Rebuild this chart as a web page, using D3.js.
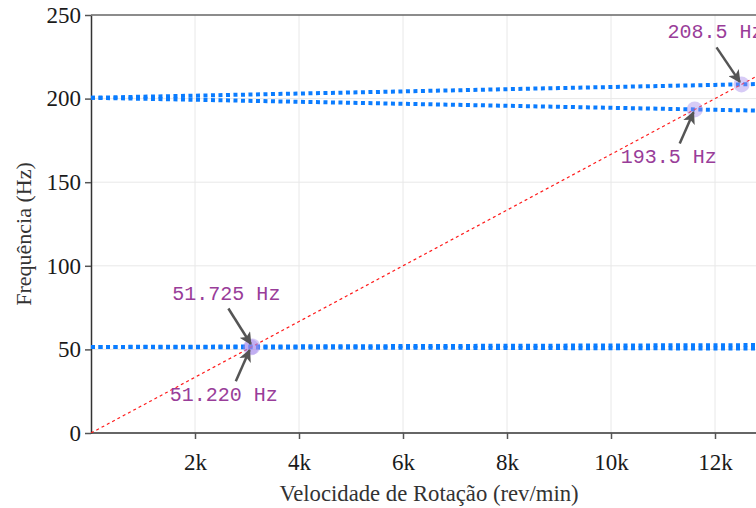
<!DOCTYPE html>
<html>
<head>
<meta charset="utf-8">
<script src="https://cdn.jsdelivr.net/npm/d3@7"></script>
<style>
html,body{margin:0;padding:0;background:#fff;overflow:hidden;}
</style>
</head>
<body>
<svg id="chart" width="756" height="508"></svg>
<script>
// ---- data ----
const rpm = [0, 3000, 6000, 9000, 12000, 15000];
const mode1Fwd = [51.45, 51.72, 51.98, 52.25, 52.51, 52.78];
const mode1Bwd = [51.45, 51.22, 51.00, 50.77, 50.55, 50.32];
const mode2Fwd = [200.5, 202.4, 204.3, 206.3, 208.2, 210.1];
const mode2Bwd = [200.5, 198.7, 196.9, 195.1, 193.3, 191.5];
const oneX = [0, 50, 100, 150, 200, 250]; // 1X line: rpm/60
const crossRpm = [3103.5, 3073.2, 11610, 12510];
const crossFreq = [51.725, 51.220, 193.5, 208.5];
const crossLabels = ["51.725 Hz", "51.220 Hz", "193.5 Hz", "208.5 Hz"];
const xTicks = [2000, 4000, 6000, 8000, 10000, 12000];
const xTickLabels = ["2k", "4k", "6k", "8k", "10k", "12k"];
const yTicks = [0, 50, 100, 150, 200, 250];

// ---- layout ----
const svg = d3.select("#chart");
const L = 91, T = 15, B = 433, R = 767;
const x = d3.scaleLinear().domain([0, 13000]).range([L, R]);
const y = d3.scaleLinear().domain([0, 250]).range([B, T]);

const defs = svg.append("defs");
defs.append("clipPath").attr("id", "clip")
  .append("rect").attr("x", L).attr("y", T).attr("width", R - L).attr("height", B - T);
defs.append("marker").attr("id", "arrow")
  .attr("viewBox", "0 0 10 10").attr("refX", 9).attr("refY", 5)
  .attr("markerWidth", 5).attr("markerHeight", 5).attr("orient", "auto")
  .attr("markerUnits", "strokeWidth")
  .append("path").attr("d", "M0,0 L10,5 L0,10 L2.5,5 Z").attr("fill", "#555");

// grid
const grid = svg.append("g");
grid.selectAll(".gx").data(xTicks).join("line")
  .attr("x1", d => x(d)).attr("x2", d => x(d)).attr("y1", T).attr("y2", B)
  .attr("stroke", "#e8e8e8").attr("stroke-width", 1);
grid.selectAll(".gy").data(yTicks.filter(d => d > 0 && d < 250)).join("line")
  .attr("x1", L).attr("x2", R).attr("y1", d => y(d)).attr("y2", d => y(d))
  .attr("stroke", "#e8e8e8").attr("stroke-width", 1);

// axes
const yAxis = svg.append("g").attr("transform", `translate(${L},0)`)
  .call(d3.axisLeft(y).tickValues(yTicks).tickSize(6).tickPadding(4).tickSizeOuter(0));
const xAxis = svg.append("g").attr("transform", `translate(0,${B})`)
  .call(d3.axisBottom(x).tickValues(xTicks).tickFormat((d, i) => xTickLabels[i])
    .tickSize(6).tickPadding(15).tickSizeOuter(0));
[yAxis, xAxis].forEach(a => {
  a.select(".domain").attr("stroke", "#333").attr("stroke-width", 1.5);
  a.selectAll(".tick line").attr("stroke", "#555").attr("stroke-width", 1.5);
  a.selectAll(".tick text").attr("font-family", "Liberation Serif, Times New Roman, serif")
    .attr("font-size", 23).attr("fill", "#1a1a1a");
});
xAxis.select(".domain").attr("d", `M${L},0H${R}`);
// top frame
svg.append("line").attr("x1", L).attr("x2", R).attr("y1", T).attr("y2", T)
  .attr("stroke", "#666").attr("stroke-width", 1.5);

// plot content
const plot = svg.append("g").attr("clip-path", "url(#clip)");
const line = d3.line().x((d, i) => x(rpm[i])).y(d => y(d));
[mode1Fwd, mode1Bwd, mode2Fwd, mode2Bwd].forEach(s => {
  plot.append("path").datum(s).attr("d", line)
    .attr("fill", "none").attr("stroke", "#0a7cff").attr("stroke-width", 4)
    .attr("stroke-dasharray", "4,3.5");
});
plot.append("path").datum(oneX)
  .attr("d", d3.line().x((d, i) => x(d * 60)).y(d => y(d)))
  .attr("fill", "none").attr("stroke", "#ff1a1a").attr("stroke-width", 1.2)
  .attr("stroke-dasharray", "3,3");

// crossing markers
svg.selectAll(".pt").data(crossRpm).join("circle")
  .attr("cx", d => x(d)).attr("cy", (d, i) => y(crossFreq[i])).attr("r", 8)
  .attr("fill", "#a78bea").attr("fill-opacity", 0.45);

// annotations (label offsets in px relative to point)
const offs = [
  {tx: -26, ty: -52, ax: -24, ay: -38},
  {tx: -27, ty: 48, ax: -15, ay: 34},
  {tx: -26, ty: 48, ax: -15, ay: 34},
  {tx: -26, ty: -52, ax: -25, ay: -37}
];
crossRpm.forEach((r, i) => {
  const px = x(r), py = y(crossFreq[i]), o = offs[i];
  const dx = -o.ax, dy = -o.ay, len = Math.hypot(dx, dy);
  const ex = px - dx / len * 3, ey = py - dy / len * 3;
  svg.append("line")
    .attr("x1", px + o.ax).attr("y1", py + o.ay).attr("x2", ex).attr("y2", ey)
    .attr("stroke", "#555").attr("stroke-width", 2.5).attr("marker-end", "url(#arrow)");
  svg.append("text").attr("x", px + o.tx).attr("y", py + o.ty)
    .attr("text-anchor", "middle").attr("dominant-baseline", "middle")
    .attr("font-family", "Liberation Mono, Courier New, monospace").attr("font-size", 20)
    .attr("fill", "#993d99").text(crossLabels[i]);
});

// axis titles
svg.append("text").attr("x", (L + R) / 2).attr("y", 501).attr("text-anchor", "middle")
  .attr("font-family", "Liberation Serif, Times New Roman, serif").attr("font-size", 22.7)
  .attr("fill", "#333").text("Velocidade de Rotação (rev/min)");
svg.append("text").attr("transform", "translate(31,234) rotate(-90)").attr("text-anchor", "middle")
  .attr("font-family", "Liberation Serif, Times New Roman, serif").attr("font-size", 22)
  .attr("fill", "#333").text("Frequência (Hz)");
</script>
</body>
</html>
